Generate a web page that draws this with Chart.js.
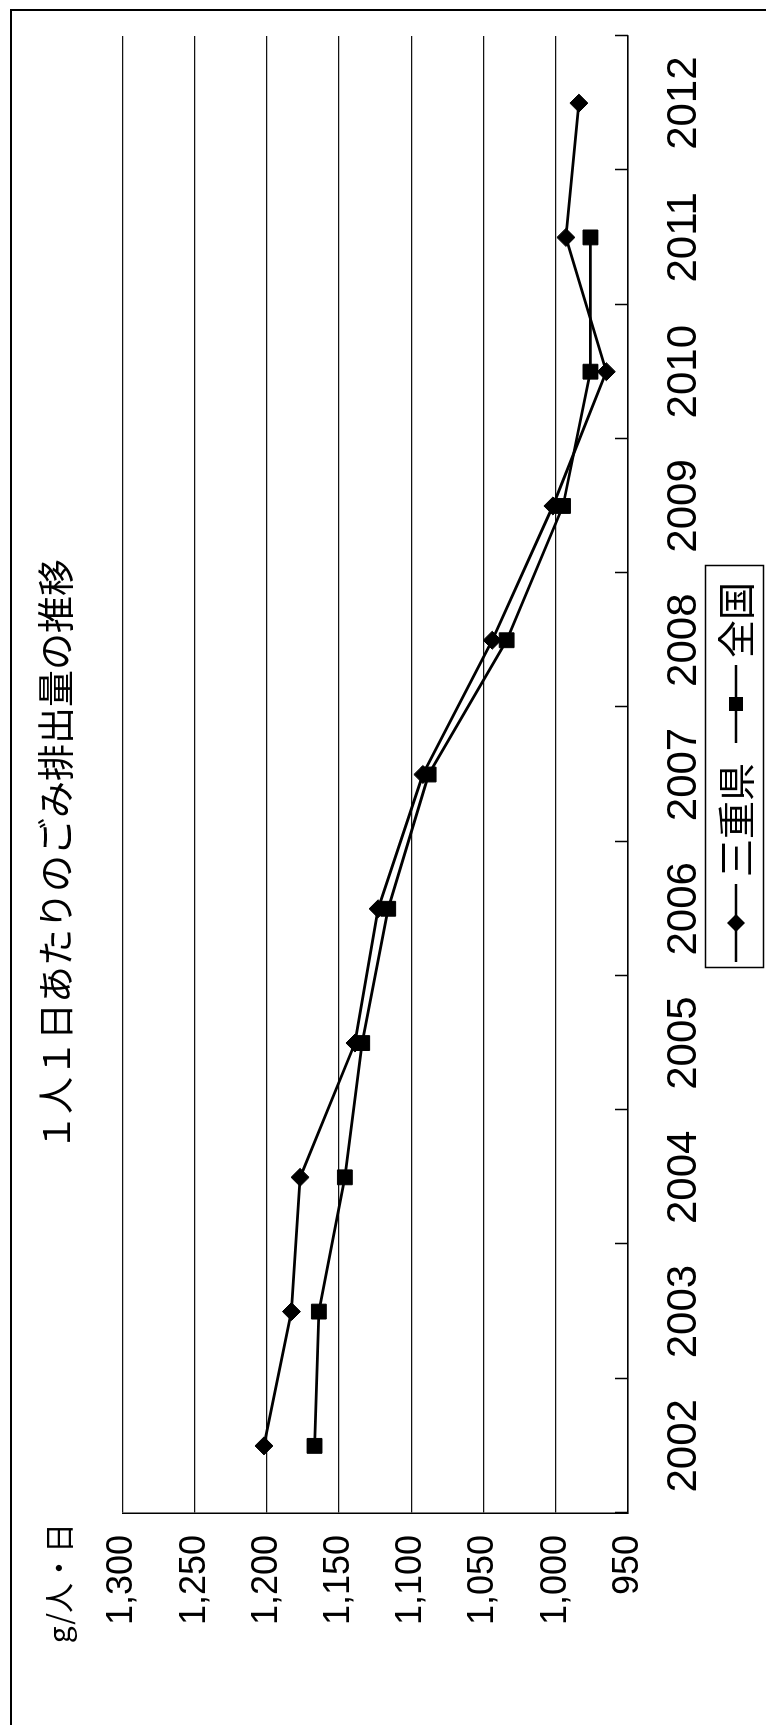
<!DOCTYPE html>
<html lang="ja">
<head>
<meta charset="utf-8">
<title>1人1日あたりのごみ排出量の推移</title>
<script src="https://cdn.jsdelivr.net/npm/chart.js@4.4.1/dist/chart.umd.min.js"></script>
<style>
  html, body { margin: 0; padding: 0; background: #fff; width: 766px; height: 1725px; overflow: hidden; }
  /* the chart is laid out landscape and turned a quarter turn to stand upright on the page */
  #frame {
    position: absolute; left: 0; top: 0;
    width: 1725px; height: 766px;
    transform-origin: 0 0;
    transform: translate(0, 1725px) rotate(-90deg);
    background: #fff;
  }
  canvas { display: block; }
</style>
</head>
<body>
<div id="frame"><canvas id="chart" width="1725" height="766"></canvas></div>
<script>
// ---- data ----
const years = ['2002', '2003', '2004', '2005', '2006', '2007', '2008', '2009', '2010', '2011', '2012'];
const mieValues = [1202, 1183, 1177, 1139, 1123, 1092, 1044, 1002, 965, 993, 984];
const nationalValues = [1167, 1164, 1146, 1134, 1116, 1088, 1034, 995, 976, 976, null];
const seriesNames = ['三重県', '全国'];
const valueMin = 950;
const valueMax = 1300;
const valueStep = 50;
const chartTitle = '１人１日あたりのごみ排出量の推移';
const unitLabel = 'g/人・日';

const INK = '#000';
const CJK = '"Noto Sans CJK JP", "Noto Sans", sans-serif';
const LATIN = '"Liberation Sans", Arial, sans-serif';

// legend swatches: a line segment with the series marker in the middle.
// The image carries empty room on its left so the segment sits close to its label.
const SWATCH_W = 95, SEG_START = 17;
function makeSwatch(shape) {
  const c = document.createElement('canvas');
  c.width = SWATCH_W; c.height = 22;
  const g = c.getContext('2d');
  const mid = (SEG_START + SWATCH_W) / 2;
  g.strokeStyle = INK; g.fillStyle = INK; g.lineWidth = 2.5;
  g.beginPath(); g.moveTo(SEG_START, 11); g.lineTo(SWATCH_W, 11); g.stroke();
  g.beginPath();
  if (shape === 'diamond') {
    g.moveTo(mid, 2); g.lineTo(mid + 9, 11); g.lineTo(mid, 20); g.lineTo(mid - 9, 11);
  } else {
    g.rect(mid - 7, 4, 14, 14);
  }
  g.closePath(); g.fill();
  return c;
}
const swatches = [makeSwatch('diamond'), makeSwatch('square')];

// decorations the library has no option for: outer frame, inward category ticks,
// unit caption above the value axis, and the box around the legend
const decorations = {
  id: 'decorations',
  afterDraw(chart) {
    const ctx = chart.ctx;
    const area = chart.chartArea;
    const xs = chart.scales.x;
    const ys = chart.scales.y;
    ctx.save();

    // outer frame
    ctx.strokeStyle = INK; ctx.lineWidth = 2;
    ctx.beginPath();
    ctx.moveTo(0, 11); ctx.lineTo(chart.width - 10, 11); ctx.lineTo(chart.width - 10, chart.height);
    ctx.stroke();

    // category boundary ticks pointing into the plot
    const n = xs.ticks.length;
    ctx.lineWidth = 1.5;
    ctx.beginPath();
    for (let i = 0; i <= n; i++) {
      const px = Math.round(xs.left + i * xs.width / n) + 0.5;
      ctx.moveTo(px, area.bottom); ctx.lineTo(px, area.bottom - 13);
    }
    ctx.stroke();

    // unit caption
    ctx.fillStyle = INK;
    ctx.font = '30px ' + CJK;
    ctx.textAlign = 'right'; ctx.textBaseline = 'middle';
    ctx.fillText(unitLabel, ys.right - 10, area.top - 64);

    // legend box
    const boxes = chart.legend.legendHitBoxes;
    if (boxes && boxes.length) {
      let l = Infinity, r = -Infinity, t = Infinity, b = -Infinity;
      boxes.forEach(h => {
        l = Math.min(l, h.left); r = Math.max(r, h.left + h.width);
        t = Math.min(t, h.top); b = Math.max(b, h.top + h.height);
      });
      l -= 1; r += 16; t -= 12; b += 8;
      ctx.lineWidth = 1.5;
      ctx.strokeRect(Math.round(l) + 0.5, Math.round(t) + 0.5, Math.round(r - l), Math.round(b - t));
    }
    ctx.restore();
  }
};

new Chart(document.getElementById('chart'), {
  type: 'line',
  data: {
    labels: years,
    datasets: [
      {
        label: seriesNames[0],
        data: mieValues,
        borderColor: INK, backgroundColor: INK, borderWidth: 2.8,
        pointStyle: 'rectRot', pointRadius: 9, pointBorderWidth: 1,
        pointBackgroundColor: INK, pointBorderColor: INK,
        tension: 0
      },
      {
        label: seriesNames[1],
        data: nationalValues,
        borderColor: INK, backgroundColor: INK, borderWidth: 2.8,
        pointStyle: 'rect', pointRadius: 10.5, pointBorderWidth: 1,
        pointBackgroundColor: INK, pointBorderColor: INK,
        tension: 0
      }
    ]
  },
  options: {
    responsive: false,
    animation: false,
    devicePixelRatio: 1,
    layout: { padding: { left: 51, right: 36, top: 0, bottom: 1 } },
    plugins: {
      title: {
        display: true,
        text: chartTitle,
        color: INK,
        font: { family: CJK, size: 37, weight: 'normal', lineHeight: 1.2 },
        padding: { top: 34, bottom: 44 }
      },
      legend: {
        display: true,
        position: 'bottom',
        fullSize: false,
        labels: {
          color: INK,
          font: { family: CJK, size: 38, lineHeight: 1.2 },
          usePointStyle: true,
          pointStyleWidth: 71,
          boxHeight: 20,
          padding: 15,
          generateLabels(chart) {
            return chart.data.datasets.map((ds, i) => ({
              text: ds.label,
              pointStyle: swatches[i],
              fillStyle: INK, strokeStyle: INK, lineWidth: 0,
              fontColor: INK, hidden: false, datasetIndex: i
            }));
          }
        }
      },
      tooltip: { enabled: false }
    },
    scales: {
      x: {
        type: 'category',
        offset: true,
        grid: {
          display: true, drawOnChartArea: false, drawTicks: true,
          tickLength: 39, color: 'rgba(0,0,0,0)', tickColor: 'rgba(0,0,0,0)'
        },
        border: { display: true, color: INK, width: 1.5 },
        ticks: {
          color: INK,
          font: { family: LATIN, size: 42, lineHeight: 0.833 },
          padding: 0,
          maxRotation: 0, minRotation: 0, autoSkip: false
        }
      },
      y: {
        min: valueMin,
        max: valueMax,
        afterFit(scale) { scale.width = 161; },
        grid: { color: '#111', lineWidth: 1.2, drawTicks: false },
        border: { display: true, color: INK, width: 1.5 },
        ticks: {
          stepSize: valueStep,
          color: INK,
          font: { family: LATIN, size: 36, lineHeight: 1 },
          padding: 22
        }
      }
    }
  },
  plugins: [decorations]
});
</script>
</body>
</html>
